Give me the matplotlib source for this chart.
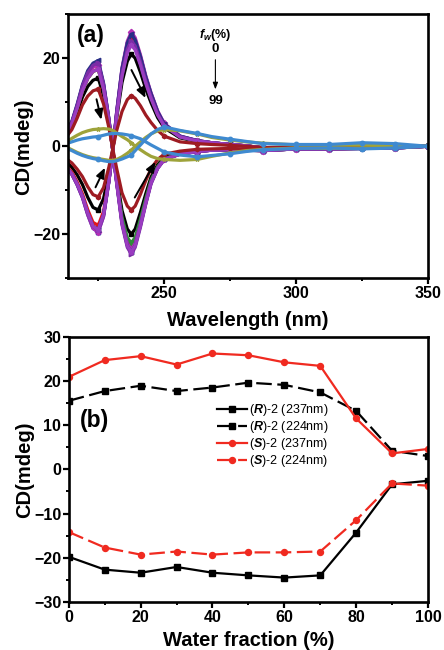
import matplotlib
matplotlib.use('Agg')
import matplotlib.pyplot as plt
from matplotlib.ticker import MultipleLocator

plt.rcParams['font.family'] = ['Liberation Sans', 'DejaVu Sans']
plt.rcParams['font.weight'] = 'bold'
plt.rcParams['mathtext.fontset'] = 'custom'
plt.rcParams['mathtext.it'] = 'Liberation Sans:italic'
plt.rcParams['mathtext.bf'] = 'Liberation Sans:bold:italic'
plt.rcParams['mathtext.rm'] = 'Liberation Sans'

# ---------------- panel (a) data: CD spectra ----------------
wavelength = [213, 215, 217, 219, 221, 223, 225, 227, 229, 230.5, 232, 234, 236, 237.5,
              239, 241, 243, 245, 247.5, 250, 256, 262.5, 268, 275, 281, 287.5, 300,
              312.5, 325, 337.5, 350]
fractions = ['0', '10', '20', '30', '40', '50', '60', '70', '80', '90', '99']

R_0 = [2.6, 4.5, 7.6, 11.2, 13.6, 15.0, 15.5, 11.5, 5.1, -0.8, -7.0, -14.6, -18.8, -20.0, -18.8, -15.0, -10.8, -7.0, -4.2, -2.5, -1.5, -1.0, -0.8, -0.7, -0.8, -0.9, -0.5, -0.5, -0.4, -0.3, 0.0]
R_10 = [3.0, 5.1, 8.6, 12.6, 15.4, 17.0, 17.5, 13.0, 5.8, -0.9, -8.1, -16.8, -21.6, -23.0, -21.6, -17.3, -12.4, -8.1, -4.8, -2.9, -1.7, -1.2, -0.9, -0.8, -0.9, -1.0, -0.6, -0.6, -0.5, -0.4, 0.0]
R_20 = [3.2, 5.5, 9.3, 13.7, 16.7, 18.4, 19.0, 14.1, 6.3, -0.9, -8.2, -17.2, -22.1, -23.5, -22.1, -17.6, -12.7, -8.2, -4.9, -2.9, -1.8, -1.2, -0.9, -0.8, -0.9, -1.0, -0.6, -0.6, -0.5, -0.4, 0.0]
R_30 = [3.0, 5.1, 8.6, 12.6, 15.4, 17.0, 17.5, 13.0, 5.8, -0.9, -7.7, -16.1, -20.7, -22.0, -20.7, -16.5, -11.9, -7.7, -4.6, -2.8, -1.7, -1.1, -0.9, -0.8, -0.9, -1.0, -0.6, -0.6, -0.5, -0.4, 0.0]
R_40 = [3.1, 5.4, 9.1, 13.3, 16.3, 17.9, 18.5, 13.7, 6.1, -0.9, -8.2, -17.2, -22.1, -23.5, -22.1, -17.6, -12.7, -8.2, -4.9, -2.9, -1.8, -1.2, -0.9, -0.8, -0.9, -1.0, -0.6, -0.6, -0.5, -0.4, 0.0]
R_50 = [3.3, 5.7, 9.6, 14.0, 17.2, 18.9, 19.5, 14.4, 6.4, -1.0, -8.4, -17.5, -22.6, -24.0, -22.6, -18.0, -13.0, -8.4, -5.0, -3.0, -1.8, -1.2, -0.9, -0.8, -0.9, -1.0, -0.6, -0.6, -0.5, -0.4, 0.0]
R_60 = [3.2, 5.5, 9.3, 13.7, 16.7, 18.4, 19.0, 14.1, 6.3, -1.0, -8.6, -17.9, -23.0, -24.5, -23.0, -18.4, -13.2, -8.6, -5.1, -3.1, -1.8, -1.2, -0.9, -0.8, -0.9, -1.0, -0.6, -0.6, -0.5, -0.4, 0.0]
R_70 = [3.0, 5.1, 8.6, 12.6, 15.4, 17.0, 17.5, 13.0, 5.8, -1.0, -8.4, -17.5, -22.6, -24.0, -22.6, -18.0, -13.0, -8.4, -5.0, -3.0, -1.8, -1.2, -0.9, -0.8, -0.9, -1.0, -0.6, -0.6, -0.5, -0.4, 0.0]
R_80 = [2.2, 3.8, 6.4, 9.4, 11.4, 12.6, 13.0, 9.6, 4.3, -0.6, -5.1, -10.6, -13.6, -14.5, -13.6, -10.9, -7.8, -5.1, -3.0, -1.8, -1.1, -0.7, -0.6, -0.5, -0.6, -0.7, -0.4, -0.4, -0.3, -0.2, 0.0]
R_90 = [1.0, 1.8, 2.5, 3.1, 3.5, 3.8, 3.9, 4.0, 3.9, 3.6, 3.0, 2.2, 1.5, 0.8, 0.0, -0.8, -1.6, -2.3, -2.8, -3.0, -3.2, -3.0, -2.3, -1.5, -1.0, -0.7, -0.4, -0.5, -0.4, -0.2, 0.0]
R_99 = [0.6, 1.0, 1.4, 1.7, 1.9, 2.1, 2.2, 2.5, 2.8, 2.9, 2.9, 2.8, 2.6, 2.4, 2.1, 1.7, 1.0, 0.3, -0.5, -1.3, -2.0, -2.4, -2.1, -1.7, -1.2, -0.8, -0.5, -0.4, -0.6, -0.4, 0.0]

S_0 = [-3.6, -4.8, -6.5, -8.7, -11.6, -13.9, -14.5, -11.9, -6.1, -0.8, 6.5, 14.5, 19.3, 21.0, 20.0, 16.8, 13.0, 9.9, 6.5, 4.2, 1.9, 1.1, 0.7, 0.3, 0.1, -0.3, -0.3, -0.2, -0.2, -0.1, 0.0]
S_10 = [-4.5, -5.9, -8.1, -10.8, -14.4, -17.3, -18.0, -14.8, -7.6, -1.0, 7.6, 16.9, 22.5, 24.5, 23.3, 19.6, 15.2, 11.5, 7.6, 4.9, 2.2, 1.2, 0.8, 0.4, 0.1, -0.4, -0.3, -0.3, -0.2, -0.1, 0.0]
S_20 = [-4.9, -6.4, -8.8, -11.7, -15.6, -18.7, -19.5, -16.0, -8.2, -1.0, 7.9, 17.6, 23.5, 25.5, 24.2, 20.4, 15.8, 12.0, 7.9, 5.1, 2.3, 1.3, 0.8, 0.4, 0.1, -0.4, -0.3, -0.3, -0.2, -0.1, 0.0]
S_30 = [-4.8, -6.3, -8.6, -11.4, -15.2, -18.2, -19.0, -15.6, -8.0, -1.0, 7.3, 16.2, 21.6, 23.5, 22.3, 18.8, 14.6, 11.0, 7.3, 4.7, 2.1, 1.2, 0.8, 0.4, 0.1, -0.4, -0.3, -0.3, -0.2, -0.1, 0.0]
S_40 = [-4.9, -6.4, -8.8, -11.7, -15.6, -18.7, -19.5, -16.0, -8.2, -1.0, 8.1, 17.9, 23.9, 26.0, 24.7, 20.8, 16.1, 12.2, 8.1, 5.2, 2.3, 1.3, 0.8, 0.4, 0.1, -0.4, -0.3, -0.3, -0.2, -0.1, 0.0]
S_50 = [-4.8, -6.3, -8.6, -11.4, -15.2, -18.2, -19.0, -15.6, -8.0, -1.0, 7.9, 17.6, 23.5, 25.5, 24.2, 20.4, 15.8, 12.0, 7.9, 5.1, 2.3, 1.3, 0.8, 0.4, 0.1, -0.4, -0.3, -0.3, -0.2, -0.1, 0.0]
S_60 = [-4.8, -6.3, -8.6, -11.4, -15.2, -18.2, -19.0, -15.6, -8.0, -1.0, 7.4, 16.6, 22.1, 24.0, 22.8, 19.2, 14.9, 11.3, 7.4, 4.8, 2.2, 1.2, 0.8, 0.4, 0.1, -0.4, -0.3, -0.3, -0.2, -0.1, 0.0]
S_70 = [-4.8, -6.3, -8.6, -11.4, -15.2, -18.2, -19.0, -15.6, -8.0, -1.0, 7.1, 15.9, 21.2, 23.0, 21.9, 18.4, 14.3, 10.8, 7.1, 4.6, 2.1, 1.2, 0.8, 0.4, 0.1, -0.4, -0.3, -0.3, -0.2, -0.1, 0.0]
S_80 = [-2.9, -3.8, -5.2, -6.9, -9.2, -11.0, -11.5, -9.4, -4.8, -0.6, 3.6, 7.9, 10.6, 11.5, 10.9, 9.2, 7.1, 5.4, 3.6, 2.3, 1.0, 0.6, 0.4, 0.2, 0.0, -0.3, -0.2, -0.2, -0.1, -0.1, 0.0]
S_90 = [-0.2, -0.8, -1.4, -1.9, -2.3, -2.6, -2.8, -3.0, -3.2, -3.2, -3.0, -2.4, -1.6, -0.9, 0.0, 1.0, 2.0, 2.8, 3.5, 3.8, 3.5, 2.8, 2.0, 1.4, 1.0, 0.7, 0.3, 0.2, 0.3, 0.2, 0.0]
S_99 = [-0.5, -1.0, -1.6, -2.1, -2.5, -2.8, -3.0, -3.3, -3.5, -3.5, -3.3, -2.9, -2.4, -2.0, -1.0, 0.3, 1.6, 2.8, 3.8, 4.4, 3.6, 2.9, 2.2, 1.6, 1.1, 0.6, 0.4, 0.4, 0.8, 0.6, 0.0]

R_curves = [R_0, R_10, R_20, R_30, R_40, R_50, R_60, R_70, R_80, R_90, R_99]
S_curves = [S_0, S_10, S_20, S_30, S_40, S_50, S_60, S_70, S_80, S_90, S_99]

# ---------------- panel (b) data ----------------
water = [0, 10, 20, 30, 40, 50, 60, 70, 80, 90, 100]
R_237 = [-19.8, -22.7, -23.4, -22.1, -23.4, -24.0, -24.5, -24.0, -14.3, -3.4, -2.6]
R_224 = [15.5, 17.7, 18.9, 17.7, 18.5, 19.6, 19.1, 17.4, 13.2, 4.2, 3.0]
S_237 = [20.9, 24.7, 25.6, 23.7, 26.2, 25.8, 24.2, 23.4, 11.5, 3.6, 4.6]
S_224 = [-14.2, -17.7, -19.3, -18.6, -19.3, -18.8, -18.8, -18.6, -11.5, -3.2, -3.7]
legend_labels = [r'($\mathit{R}$)-2 (237nm)', r'($\mathit{R}$)-2 (224nm)',
                 r'($\mathit{S}$)-2 (237nm)', r'($\mathit{S}$)-2 (224nm)']

# ---------------- styling ----------------
colors = ['#000000', '#E3161E', '#2334A8', '#2E8B3A', '#B52EB5', '#2A2F86',
          '#7B2DA6', '#9A3CC0', '#9E1B22', '#9EA33A', '#3F8AD0']
markers = ['s', 'o', '^', 'v', 'D', '<', '>', 'p', 'h', '*', 'o']
mark_idx = [6, 13, 19, 21, 23, 25, 26, 27, 28, 29, 30]

fig = plt.figure(figsize=(4.44, 6.5), dpi=100)
ax1 = fig.add_axes([0.153, 0.572, 0.811, 0.406])
ax2 = fig.add_axes([0.155, 0.074, 0.809, 0.408])

tick_fs = 11.5
label_fs = 14.5

for ax in (ax1, ax2):
    for sp in ax.spines.values():
        sp.set_linewidth(1.9)
    ax.tick_params(which='major', direction='out', length=4, width=1.6,
                   labelsize=tick_fs, pad=1.5)
    ax.tick_params(which='minor', direction='out', length=2.5, width=1.4)

# panel (a)
for i in range(len(fractions)):
    for curve in (R_curves[i], S_curves[i]):
        ax1.plot(wavelength, curve, color=colors[i], lw=2.3, marker=markers[i],
                 markersize=3.2, markevery=mark_idx, solid_joinstyle='round')

ax1.set_xlim(213.5, 350)
ax1.set_ylim(-30, 30)
ax1.xaxis.set_major_locator(MultipleLocator(50))
ax1.xaxis.set_minor_locator(MultipleLocator(25))
ax1.yaxis.set_major_locator(MultipleLocator(20))
ax1.yaxis.set_minor_locator(MultipleLocator(10))
ax1.set_xlabel('Wavelength (nm)', fontsize=label_fs, fontweight='bold', labelpad=7)
ax1.set_ylabel('CD(mdeg)', fontsize=label_fs, fontweight='bold', labelpad=0)
ax1.text(0.025, 0.965, '(a)', transform=ax1.transAxes, fontsize=16.5,
         fontweight='bold', ha='left', va='top')

arrow_kw = dict(arrowstyle='-|>,head_length=0.6,head_width=0.25', color='black', lw=1.4)
ax1.annotate('', xy=(226.4, 5.4), xytext=(224.1, 11.3), arrowprops=arrow_kw)
ax1.annotate('', xy=(243.4, 10.4), xytext=(237.1, 17.9), arrowprops=arrow_kw)
ax1.annotate('', xy=(228.0, -4.3), xytext=(223.5, -9.9), arrowprops=arrow_kw)
ax1.annotate('', xy=(247.2, -3.0), xytext=(238.3, -12.2), arrowprops=arrow_kw)

ax1.text(269.4, 25.4, r'$\mathbf{f}_{\mathbf{w}}$(%)', fontsize=9, fontweight='bold',
         ha='center', va='center')
ax1.text(269.4, 22.1, '0', fontsize=9.5, fontweight='bold', ha='center', va='center')
ax1.annotate('', xy=(269.4, 12.3), xytext=(269.4, 20.3),
             arrowprops=dict(arrowstyle='-|>,head_length=0.4,head_width=0.15',
                             color='black', lw=0.8))
ax1.text(269.4, 10.3, '99', fontsize=9.5, fontweight='bold', ha='center', va='center')

# panel (b)
ax2.plot(water, R_237, color='black', lw=1.6, marker='s', markersize=4,
         label=legend_labels[0])
ax2.plot(water, R_224, color='black', lw=1.6, ls=(0, (7, 2.5)), marker='s',
         markersize=4, label=legend_labels[1])
ax2.plot(water, S_237, color='#F02A20', lw=1.6, marker='o', markersize=4.3,
         label=legend_labels[2])
ax2.plot(water, S_224, color='#F02A20', lw=1.6, ls=(0, (7, 2.5)), marker='o',
         markersize=4.3, label=legend_labels[3])
ax2.set_xlim(0, 100)
ax2.set_ylim(-30, 30)
ax2.xaxis.set_major_locator(MultipleLocator(20))
ax2.xaxis.set_minor_locator(MultipleLocator(10))
ax2.yaxis.set_major_locator(MultipleLocator(10))
ax2.yaxis.set_minor_locator(MultipleLocator(5))
ax2.set_xlabel('Water fraction (%)', fontsize=label_fs, fontweight='bold', labelpad=4.5)
ax2.set_ylabel('CD(mdeg)', fontsize=label_fs, fontweight='bold', labelpad=0)
ax2.text(0.03, 0.683, '(b)', transform=ax2.transAxes, fontsize=16.5,
         fontweight='bold', ha='left', va='center')
leg = ax2.legend(loc='upper left', bbox_to_anchor=(0.412, 0.752), frameon=False,
                 fontsize=9, handlelength=2.4, handletextpad=0.15, labelspacing=0.08,
                 borderpad=0, borderaxespad=0)
for t in leg.get_texts():
    t.set_fontweight('normal')

for ax in (ax1, ax2):
    for lab in ax.get_xticklabels() + ax.get_yticklabels():
        lab.set_fontweight('bold')

fig.savefig('out.png', dpi=100)
